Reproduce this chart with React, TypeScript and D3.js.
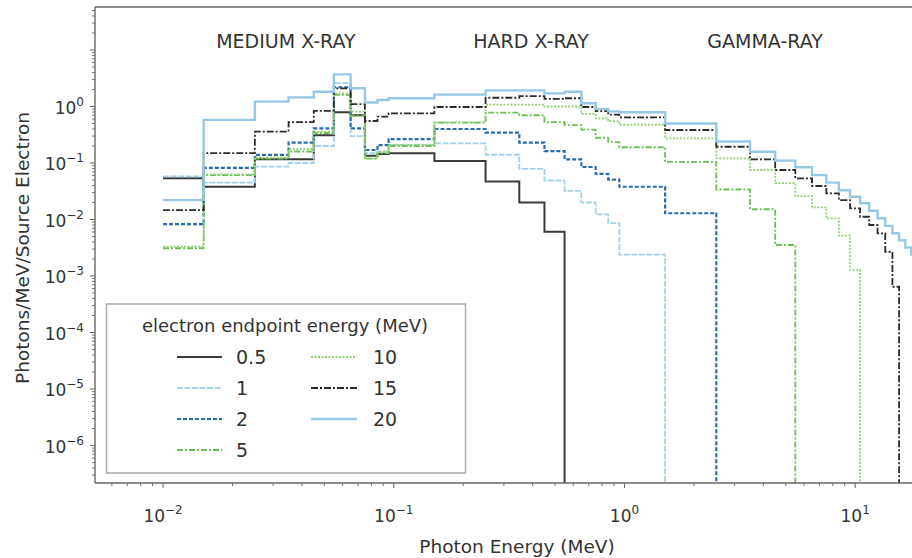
import React from "react";
import * as d3 from "d3";

// Bin edges (MeV)
const binEdges = [0.01, 0.015, 0.025, 0.035, 0.045, 0.055, 0.065, 0.075, 0.085, 0.095, 0.15, 0.25, 0.35, 0.45, 0.55, 0.65, 0.75, 0.85, 0.95, 1.5, 2.5, 3.5, 4.5, 5.5, 6.5, 7.5, 8.5, 9.5, 10.5, 11.5, 12.5, 13.5, 14.5, 15.5, 16.5, 17.5, 18.5, 19.5, 20.5];

// Photons/MeV/source electron per bin, one array per electron endpoint energy
const e05 = [0.054, 0.038, 0.116, 0.116, 0.31, 0.79, 0.7, 0.135, 0.145, 0.149, 0.108, 0.047, 0.02, 0.0061];
const e1 = [0.058, 0.045, 0.086, 0.1, 0.2, 2.6, 0.3, 0.15, 0.16, 0.21, 0.223, 0.14, 0.079, 0.049, 0.032, 0.02, 0.0123, 0.0086, 0.0024];
const e2 = [0.0083, 0.082, 0.139, 0.229, 0.41, 2.19, 0.41, 0.17, 0.208, 0.265, 0.4, 0.345, 0.229, 0.162, 0.116, 0.085, 0.064, 0.051, 0.038, 0.0129];
const e5 = [0.0031, 0.061, 0.12, 0.16, 0.34, 1.6, 0.68, 0.12, 0.15, 0.2, 0.52, 0.78, 0.7, 0.53, 0.47, 0.39, 0.28, 0.235, 0.19, 0.105, 0.034, 0.0152, 0.00354];
const e10 = [0.0033, 0.063, 0.126, 0.177, 0.36, 1.71, 0.81, 0.121, 0.158, 0.21, 0.525, 1.08, 1.08, 1.0, 1.0, 0.74, 0.62, 0.55, 0.475, 0.274, 0.121, 0.0752, 0.044, 0.026, 0.0164, 0.0105, 0.00517, 0.00128];
const e15 = [0.0147, 0.149, 0.358, 0.53, 0.84, 2.1, 1.1, 0.554, 0.66, 0.758, 0.98, 1.43, 1.53, 1.36, 1.4, 0.98, 0.83, 0.72, 0.644, 0.384, 0.194, 0.116, 0.0752, 0.0536, 0.0392, 0.0291, 0.0221, 0.0158, 0.0112, 0.008, 0.0057, 0.00269, 0.000646];
const e20 = [0.022, 0.58, 1.22, 1.45, 1.83, 3.7, 2.1, 1.18, 1.3, 1.4, 1.62, 1.93, 1.93, 1.71, 1.83, 1.14, 0.9, 0.82, 0.79, 0.5, 0.24, 0.158, 0.11, 0.084, 0.061, 0.045, 0.033, 0.0253, 0.0194, 0.0143, 0.0105, 0.0077, 0.0057, 0.0043, 0.0032, 0.0024, 0.0018, 0.0013];

const seriesLabels = ["0.5", "1", "2", "5", "10", "15", "20"];
const seriesValues = [e05, e1, e2, e5, e10, e15, e20];

const regionLabels = ["MEDIUM X-RAY", "HARD X-RAY", "GAMMA-RAY"];
const regionCenters = [0.0341, 0.394, 4.07];

const xTickExps = [-2, -1, 0, 1];
const yTickExps = [-6, -5, -4, -3, -2, -1, 0];

const styles = [
  { color: "#3a3a3a", width: 2, dash: "" },
  { color: "#a6d1ea", width: 1.8, dash: "6,1.5" },
  { color: "#2a6bb0", width: 2.2, dash: "4,2" },
  { color: "#6cbf55", width: 1.8, dash: "6,2,2,2" },
  { color: "#94cf78", width: 1.8, dash: "2,1.5" },
  { color: "#2b2b2b", width: 1.8, dash: "7,2,2,2" },
  { color: "#96c8e6", width: 2.4, dash: "" },
];

const FONT = "'DejaVu Sans', Verdana, sans-serif";
const W = 912;
const H = 558;
const L = 95;
const R = 930;
const T = 7;
const B = 483;

export default function App() {
  const x = d3.scaleLog().domain([0.00507, 21.1]).range([L, R]);
  const y = d3.scaleLog().domain([2.17e-7, 57.7]).range([B, T]);

  const line = d3
    .line<[number, number]>()
    .x((d) => x(d[0]))
    .y((d) => (d[1] > 0 ? y(d[1]) : B + 20))
    .curve(d3.curveStepAfter);

  const pathFor = (vals: number[]) => {
    const pts: [number, number][] = vals.map((v, i) => [binEdges[i], v]);
    const n = vals.length;
    pts.push([binEdges[n], vals[n - 1]]);
    pts.push([binEdges[n], 0]);
    return line(pts) || "";
  };

  const xMinor: number[] = [];
  for (let e = -3; e <= 1; e++) for (let k = 2; k <= 9; k++) {
    const v = k * Math.pow(10, e);
    if (x(v) >= L && x(v) <= W) xMinor.push(v);
  }
  const yMinor: number[] = [];
  for (let e = -7; e <= 1; e++) for (let k = 2; k <= 9; k++) {
    const v = k * Math.pow(10, e);
    if (y(v) <= B && y(v) >= T) yMinor.push(v);
  }
  const yMajorAll = [-6, -5, -4, -3, -2, -1, 0, 1];

  const sup = (e: number) => (e < 0 ? "\u2212" + Math.abs(e) : String(e));
  const textColor = "#333";
  const axisColor = "#666";

  const legendRows = [
    [0, 1, 2, 3],
    [4, 5, 6],
  ];
  const legendColX = [{ l1: 177, l2: 222, t: 236 }, { l1: 311, l2: 357, t: 373 }];
  const legendRowY = [357, 388, 419, 450];

  return (
    <div style={{ position: "fixed", left: 0, top: 0 }}>
      <svg width={W} height={H} style={{ display: "block", background: "#fff" }} fontFamily={FONT}>
        <defs>
          <clipPath id="plotclip">
            <rect x={L} y={T} width={R - L} height={B - T} />
          </clipPath>
        </defs>
        <rect x={0} y={0} width={W} height={H} fill="#fff" />

        {/* series */}
        <g clipPath="url(#plotclip)">
          {seriesValues.map((vals, i) => (
            <path
              key={i}
              d={pathFor(vals)}
              fill="none"
              stroke={styles[i].color}
              strokeWidth={styles[i].width}
              strokeDasharray={styles[i].dash || undefined}
              strokeLinejoin="miter"
            />
          ))}
        </g>

        {/* spines */}
        <line x1={L} x2={L} y1={T} y2={B} stroke={axisColor} strokeWidth={1.4} />
        <line x1={L} x2={R} y1={B} y2={B} stroke={axisColor} strokeWidth={1.4} />
        <line x1={L} x2={R} y1={T} y2={T} stroke={axisColor} strokeWidth={1.4} />

        {/* x ticks */}
        {xTickExps.map((e) => {
          const v = Math.pow(10, e);
          return (
            <g key={"xt" + e}>
              <line x1={x(v)} x2={x(v)} y1={B} y2={B + 5} stroke={axisColor} strokeWidth={1} />
              <text x={x(v)} y={522} textAnchor="middle" fontSize={17} fill={textColor}>
                10
                <tspan dy={-8} fontSize={12}>{sup(e)}</tspan>
              </text>
            </g>
          );
        })}
        {xMinor.map((v, i) => (
          <line key={"xm" + i} x1={x(v)} x2={x(v)} y1={B} y2={B + 3} stroke={axisColor} strokeWidth={0.9} />
        ))}

        {/* y ticks */}
        {yMajorAll.map((e) => {
          const v = Math.pow(10, e);
          return <line key={"ytl" + e} x1={L - 5} x2={L} y1={y(v)} y2={y(v)} stroke={axisColor} strokeWidth={1} />;
        })}
        {yTickExps.map((e) => {
          const v = Math.pow(10, e);
          return (
            <text key={"yt" + e} x={84} y={y(v) + 7} textAnchor="end" fontSize={17} fill={textColor}>
              10
              <tspan dy={-8} fontSize={12}>{sup(e)}</tspan>
            </text>
          );
        })}
        {yMinor.map((v, i) => (
          <line key={"ym" + i} x1={L - 3} x2={L} y1={y(v)} y2={y(v)} stroke={axisColor} strokeWidth={0.9} />
        ))}

        {/* axis labels */}
        <text x={517} y={553} textAnchor="middle" fontSize={18.5} fill={textColor}>
          Photon Energy (MeV)
        </text>
        <text transform={`translate(29,248) rotate(-90)`} textAnchor="middle" fontSize={18.5} fill={textColor}>
          Photons/MeV/Source Electron
        </text>

        {/* region annotations */}
        {regionLabels.map((t, i) => (
          <text key={t} x={x(regionCenters[i])} y={48} textAnchor="middle" fontSize={19} fill={textColor}>
            {t}
          </text>
        ))}

        {/* legend */}
        <rect x={106.5} y={304} width={359} height={169} fill="#fff" stroke="#aaa" strokeWidth={1.5} />
        <text x={285} y={332} textAnchor="middle" fontSize={18} fill={textColor}>
          electron endpoint energy (MeV)
        </text>
        {legendRows.map((col, c) =>
          col.map((si, r) => (
            <g key={"lg" + si}>
              <line
                x1={legendColX[c].l1}
                x2={legendColX[c].l2}
                y1={legendRowY[r]}
                y2={legendRowY[r]}
                stroke={styles[si].color}
                strokeWidth={styles[si].width}
                strokeDasharray={styles[si].dash || undefined}
              />
              <text x={legendColX[c].t} y={legendRowY[r] + 7} fontSize={19} fill={textColor}>
                {seriesLabels[si]}
              </text>
            </g>
          ))
        )}
      </svg>
    </div>
  );
}
